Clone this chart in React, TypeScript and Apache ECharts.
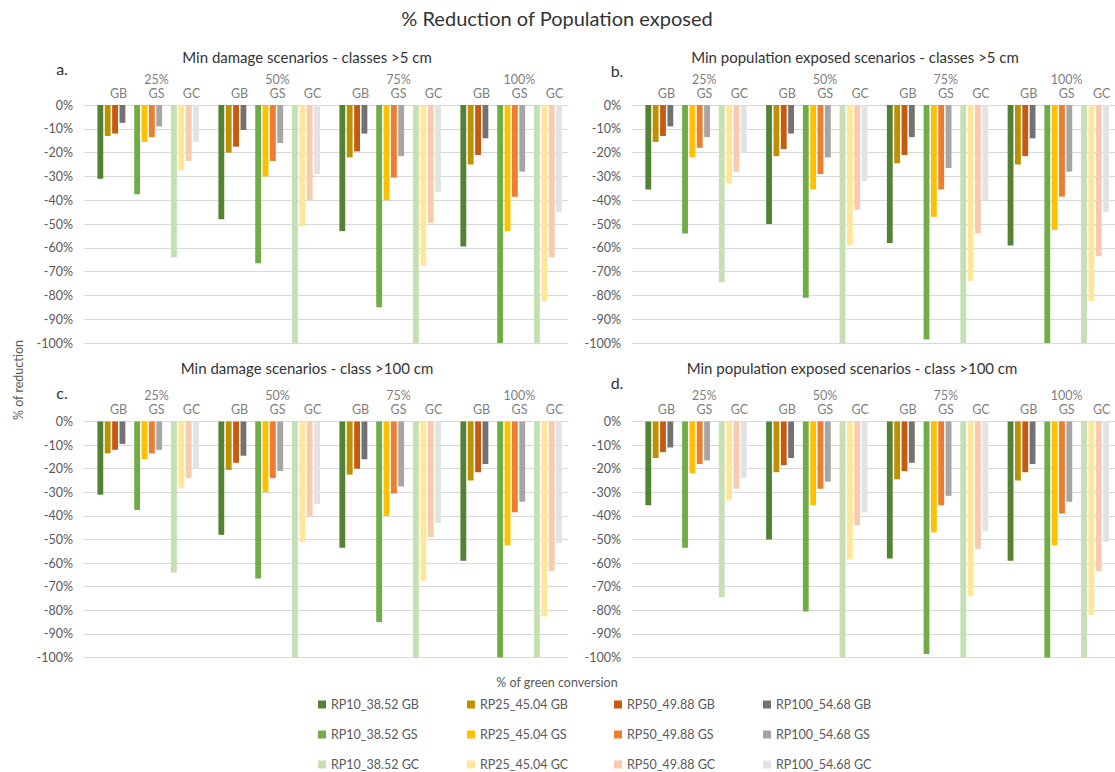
import React, { useEffect, useRef } from "react";
import * as echarts from "echarts";

// ---------- data ----------
const percentLabels = ["25%", "50%", "75%", "100%"];
const typeLabels = ["GB", "GS", "GC"];
const returnPeriods = ["RP10_38.52", "RP25_45.04", "RP50_49.88", "RP100_54.68"];
const yTickMin = -100;
const yTickMax = 0;
const yTickStep = 10;

// rows: RP10, RP25, RP50, RP100 ; columns: 25%, 50%, 75%, 100%
// a. Min damage scenarios - classes >5 cm
const damage5GB = [[-31, -48, -53, -59.5], [-13, -20, -22, -25], [-12, -17.5, -19.5, -21], [-7.5, -10.5, -12, -14]];
const damage5GS = [[-37.5, -66.5, -85, -100], [-15.5, -30, -40, -53], [-13.5, -23.5, -30.5, -38.5], [-9, -16, -21.5, -28]];
const damage5GC = [[-64, -100, -100, -100], [-27.5, -51, -67.5, -82.5], [-23.5, -40, -49.5, -64], [-15.5, -29, -36.5, -45]];
// b. Min population exposed scenarios - classes >5 cm
const pop5GB = [[-35.5, -50, -58, -59], [-15.5, -21.5, -24.5, -25], [-13, -18.5, -21, -21.5], [-9, -12, -13.5, -14]];
const pop5GS = [[-54, -81, -98.5, -100], [-22, -35.5, -47, -52.5], [-18, -29, -35.5, -38.5], [-13.5, -22, -26.5, -28]];
const pop5GC = [[-74.5, -100, -100, -100], [-33, -59, -74, -82.5], [-28, -44, -54, -63.5], [-20, -32, -40, -45]];
// c. Min damage scenarios - class >100 cm
const damage100GB = [[-31, -48, -53.5, -59], [-13.5, -20.5, -22.5, -25], [-12, -17.5, -20, -21.5], [-9.5, -14.5, -16, -18]];
const damage100GS = [[-37.5, -66.5, -85, -100], [-16, -30, -40, -52.5], [-13.5, -24, -30.5, -38.5], [-12, -21, -27.5, -34]];
const damage100GC = [[-64, -100, -100, -100], [-28, -51, -67.5, -82.5], [-24, -40, -49, -63.5], [-20, -35, -43, -51.5]];
// d. Min population exposed scenarios - class >100 cm
const pop100GB = [[-35.5, -50, -58, -59], [-15.5, -21.5, -24.5, -25], [-13, -18.5, -21, -21.5], [-11, -15.5, -17.5, -18]];
const pop100GS = [[-53.5, -80.5, -98.5, -100], [-22, -35.5, -47, -52.5], [-18, -28.5, -35.5, -39], [-16.5, -25.5, -31.5, -34]];
const pop100GC = [[-74.5, -100, -100, -100], [-33.5, -58.5, -74, -82], [-28.5, -44, -54, -63.5], [-24, -38.5, -46.5, -51]];

const panelTitles = [
  "Min damage scenarios - classes >5 cm",
  "Min population exposed scenarios - classes >5 cm",
  "Min damage scenarios - class >100 cm",
  "Min population exposed scenarios - class >100 cm",
];
const panelLetters = ["a.", "b.", "c.", "d."];
const mainTitle = "% Reduction of Population exposed";
const yAxisName = "% of reduction";
const xAxisName = "% of green conversion";

// ---------- styles ----------
const FONT = "Lato, 'Open Sans', sans-serif";
const TEXT = "#595959";
const DARK = "#333333";
const GRIDLINE = "#d9d9d9";
const colors: Record<string, string[]> = {
  GB: ["#548235", "#bf9000", "#c55a11", "#767171"],
  GS: ["#70ad47", "#ffc000", "#ed7d31", "#a5a5a5"],
  GC: ["#c5e0b4", "#ffe699", "#f8cbad", "#e4e3e3"],
};

const panelData = [
  { GB: damage5GB, GS: damage5GS, GC: damage5GC },
  { GB: pop5GB, GS: pop5GS, GC: pop5GC },
  { GB: damage100GB, GS: damage100GS, GC: damage100GC },
  { GB: pop100GB, GS: pop100GS, GC: pop100GC },
];

const grids = [
  { left: 84, top: 105, width: 484, height: 238 },
  { left: 632, top: 105, width: 488, height: 238 },
  { left: 84, top: 421.5, width: 484, height: 236 },
  { left: 632, top: 421.5, width: 488, height: 236 },
];
const titlePos = [
  [307, 57],
  [855, 57],
  [307, 368],
  [852, 368],
];
const letterPos = [
  [62, 68],
  [617, 70],
  [62, 392],
  [617, 382],
];
const typeLabelDx = [-26, 12, 47];
const pctLabelDx = 12;
const legendLeft = [318, 467, 614, 763];

function buildSeries(pi: number) {
  const out: any[] = [];
  const common = {
    type: "bar",
    xAxisIndex: pi,
    yAxisIndex: pi,
    barGap: "26%",
    barCategoryGap: "10%",
  };
  const mats: any = panelData[pi];
  typeLabels.forEach((t, ti) => {
    out.push({ ...common, name: `spacer_${pi}_${ti}`, data: percentLabels.map(() => "-"), silent: true });
    returnPeriods.forEach((rp, ri) => {
      out.push({
        ...common,
        name: `${rp} ${t}`,
        data: mats[t][ri],
        itemStyle: { color: colors[t][ri] },
      });
    });
  });
  const labelSeries = (name: string, fmt: (i: number) => string, dx: number, dy: number) => ({
    type: "scatter",
    name,
    xAxisIndex: pi,
    yAxisIndex: pi,
    data: percentLabels.map(() => 0),
    symbolSize: 1,
    clip: false,
    silent: true,
    z: 10,
    itemStyle: { color: "rgba(0,0,0,0)" },
    label: {
      show: true,
      position: "inside",
      offset: [dx, dy],
      formatter: (p: any) => fmt(p.dataIndex),
      color: TEXT,
      fontSize: 12.5,
      fontFamily: FONT,
    },
  });
  out.push(labelSeries(`pct_${pi}`, (i) => percentLabels[i], pctLabelDx, -26));
  typeLabels.forEach((t, ti) => {
    out.push(labelSeries(`type_${pi}_${ti}`, () => t, typeLabelDx[ti], -12));
  });
  return out;
}

function centeredText(x: number, y: number, text: string, size: number, fill: string, rotation = 0) {
  return {
    type: "text",
    x,
    y,
    rotation,
    style: {
      text,
      fill,
      font: `${size}px ${FONT}`,
      align: "center",
      verticalAlign: "middle",
      textAlign: "center",
      textVerticalAlign: "middle",
    },
  };
}

function buildOption() {
  const graphic: any[] = [
    centeredText(557, 18, mainTitle, 20, DARK),
    centeredText(557, 682, xAxisName, 12.5, TEXT),
    centeredText(18, 380, yAxisName, 12.5, TEXT, Math.PI / 2),
  ];
  panelTitles.forEach((t, i) => {
    graphic.push(centeredText(titlePos[i][0], titlePos[i][1], t, 15, DARK));
    graphic.push(centeredText(letterPos[i][0], letterPos[i][1], panelLetters[i], 16, DARK));
  });

  return {
    animation: false,
    backgroundColor: "#ffffff",
    textStyle: { fontFamily: FONT },
    grid: grids.map((g) => ({ ...g, containLabel: false })),
    xAxis: grids.map((_, i) => ({
      type: "category",
      gridIndex: i,
      data: percentLabels,
      position: "top",
      axisLine: { show: true, lineStyle: { color: GRIDLINE, width: 1 } },
      axisTick: { show: false },
      axisLabel: { show: false },
      splitLine: { show: false },
    })),
    yAxis: grids.map((_, i) => ({
      type: "value",
      gridIndex: i,
      min: yTickMin,
      max: yTickMax,
      interval: yTickStep,
      axisLine: { show: false },
      axisTick: { show: false },
      splitLine: { show: true, lineStyle: { color: GRIDLINE, width: 1 } },
      axisLabel: { formatter: (v: number) => `${v}%`, color: TEXT, fontSize: 12.5, fontFamily: FONT, margin: 11 },
    })),
    legend: returnPeriods.map((rp, ri) => ({
      orient: "vertical",
      left: legendLeft[ri],
      top: 697,
      padding: 0,
      itemWidth: 8,
      itemHeight: 8,
      itemGap: 15,
      icon: "rect",
      selectedMode: false,
      data: typeLabels.map((t) => `${rp} ${t}`),
      textStyle: { color: TEXT, fontSize: 12.5, fontFamily: FONT, lineHeight: 15 },
    })),
    graphic,
    series: [0, 1, 2, 3].flatMap((pi) => buildSeries(pi)),
  };
}

export default function App() {
  const ref = useRef<HTMLDivElement>(null);
  useEffect(() => {
    document.body.style.margin = "0";
    if (!ref.current) return;
    const chart = echarts.init(ref.current, null, { renderer: "svg" });
    chart.setOption(buildOption() as any);
    return () => chart.dispose();
  }, []);
  return <div ref={ref} style={{ width: 1115, height: 772, overflow: "hidden" }} />;
}
